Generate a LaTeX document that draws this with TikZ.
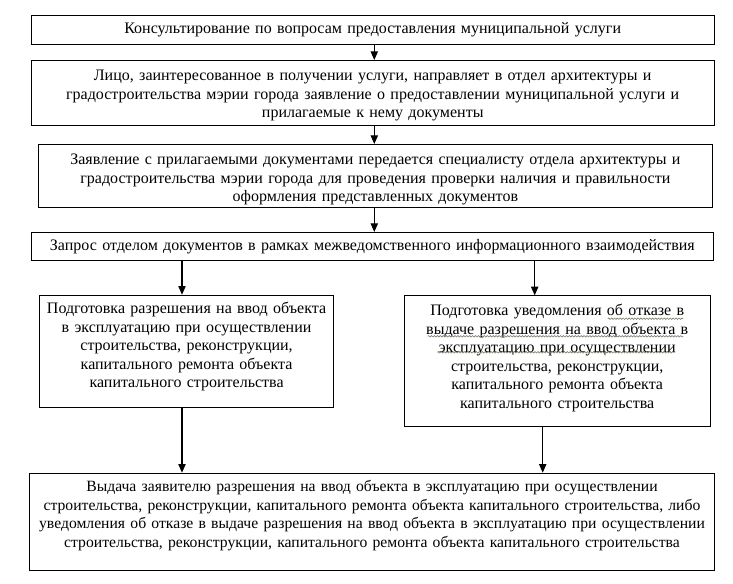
\documentclass[tikz,border=0pt]{standalone}
\usepackage{fontspec}
\setmainfont{Liberation Serif}
\usetikzlibrary{arrows.meta,decorations.pathmorphing}

\definecolor{markgrey}{RGB}{118,124,104}

\tikzset{
  stagebox/.style={draw, line width=0.8pt, inner sep=0pt, align=center, anchor=north west,
    font=\fontsize{12}{13.9}\selectfont},
  flowarrow/.style={line width=0.8pt, -{Triangle[length=6.5pt,width=5.5pt]}},
  spellmark/.style={draw=markgrey, line width=0.45pt, decorate,
    decoration={snake, segment length=2.2pt, amplitude=0.55pt}}
}

\begin{document}
\begin{tikzpicture}[x=0.75pt,y=0.75pt,yscale=-1,xscale=1]
\useasboundingbox (0,0) rectangle (733,584);

%Shape: Rectangle [consult]
\node [stagebox, minimum width=512.25pt, text width=505pt, text height=13.6pt, text depth=7.9pt] (consult) at (30.7,15.3)
  {Консультирование по вопросам предоставления муниципальной услуги};
%Shape: Rectangle [apply]
\node [stagebox, minimum width=512.25pt, text width=505pt, text height=15pt, text depth=33.75pt] (apply) at (30.7,60)
  {Лицо, заинтересованное в получении услуги, направляет в отдел архитектуры и\\
   градостроительства мэрии города заявление о предоставлении муниципальной услуги и\\
   прилагаемые к нему документы};
%Shape: Rectangle [check]
\node [stagebox, minimum width=505.7pt, text width=500pt, text height=15pt, text depth=32.25pt] (check) at (37.7,144)
  {Заявление с прилагаемыми документами передается специалисту отдела архитектуры и\\
   градостроительства мэрии города для проведения проверки наличия и правильности\\
   оформления представленных документов};
%Shape: Rectangle [request]
\node [stagebox, minimum width=511.7pt, text width=505pt, text height=13.5pt, text depth=7.5pt] (request) at (30.7,232)
  {Запрос отделом документов в рамках межведомственного информационного взаимодействия};
%Shape: Rectangle [permit]
\node [stagebox, minimum width=221pt, text width=215pt, text height=13.7pt, text depth=70.5pt] (permit) at (38.7,294.7)
  {Подготовка разрешения на ввод объекта\\
   в эксплуатацию при осуществлении\\
   строительства, реконструкции,\\
   капитального ремонта объекта\\
   капитального строительства};
%Shape: Rectangle [refusal]
\node [stagebox, minimum width=229.5pt, text width=224pt, text height=14.8pt, text depth=83.2pt] (refusal) at (403.7,295.3)
  {Подготовка уведомления об отказе в\\
   выдаче разрешения на ввод объекта в\\
   эксплуатацию при осуществлении\\
   строительства, реконструкции,\\
   капитального ремонта объекта\\
   капитального строительства};
%Shape: Rectangle [issue]
\node [stagebox, font=\fontsize{11.75}{13.9}\selectfont, minimum width=513.3pt, text width=510pt, text height=13.7pt, text depth=59.3pt] (issue) at (29.3,472.7)
  {Выдача заявителю разрешения на ввод объекта в эксплуатацию при осуществлении\\
   строительства, реконструкции, капитального ремонта объекта капитального строительства, либо\\
   уведомления об отказе в выдаче разрешения на ввод объекта в эксплуатацию при осуществлении\\
   строительства, реконструкции, капитального ремонта объекта капитального строительства};

%Wavy marks under words
\draw [spellmark] (607.7,318.7) -- (683.3,318.7);
\draw [spellmark] (427.7,336.3) -- (683.3,336.3);
\draw [spellmark] (437.3,352.3) -- (675,352.3);

% arrow columns
\coordinate (midcol) at (374.3,0);
\coordinate (leftcol) at (182,0);
\coordinate (righttop) at (534.7,0);
\coordinate (rightbot) at (542.7,0);

%Straight Lines
\draw [flowarrow] (consult.south -| midcol) -- (apply.north -| midcol);
\draw [flowarrow] (apply.south -| midcol) -- (check.north -| midcol);
\draw [flowarrow] (check.south -| midcol) -- (request.north -| midcol);
\draw [flowarrow] (request.south -| leftcol) -- (permit.north -| leftcol);
\draw [flowarrow] (request.south -| righttop) -- (refusal.north -| righttop);
\draw [flowarrow] (permit.south -| leftcol) -- (issue.north -| leftcol);
\draw [flowarrow] (refusal.south -| rightbot) -- (issue.north -| rightbot);

\end{tikzpicture}
\end{document}
